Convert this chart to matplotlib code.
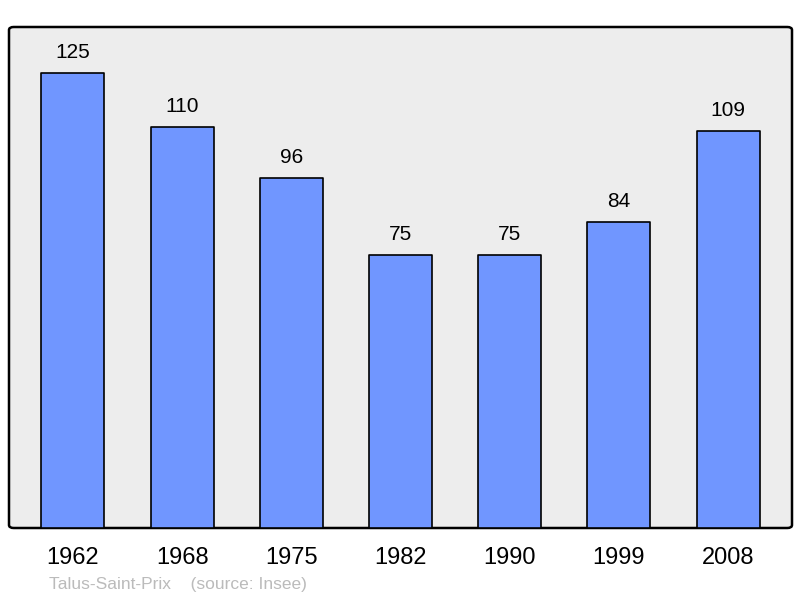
import matplotlib
matplotlib.use("Agg")
import matplotlib.pyplot as plt
from matplotlib.patches import FancyBboxPatch

years = ["1962", "1968", "1975", "1982", "1990", "1999", "2008"]
values = [125, 110, 96, 75, 75, 84, 109]
title_text = "Talus-Saint-Prix    (source: Insee)"

plt.rcParams['font.family'] = ['Liberation Sans', 'DejaVu Sans']

fig = plt.figure(figsize=(8, 5.98), dpi=100)
ax = fig.add_axes([9/800, 70/598, 783/800, 501/598])
ax.patch.set_visible(False)

frame = FancyBboxPatch((0, 0), 1, 1, boxstyle="round,pad=0,rounding_size=0.006",
                       transform=ax.transAxes, facecolor='#ededed', edgecolor='black',
                       linewidth=1.8, zorder=0, clip_on=False)
ax.add_patch(frame)

x = list(range(len(years)))
bars = ax.bar(x, values, width=0.576, color='#7096ff', edgecolor='black',
              linewidth=1.2, zorder=2)
for b in bars:
    b.set_joinstyle('round')

for xi, v in zip(x, values):
    ax.annotate(str(v), (xi, v), xytext=(0, 8), textcoords='offset points',
                ha='center', va='bottom', fontsize=15, color='black')

ax.set_xlim(-0.585, 6.585)
ax.set_ylim(0, 137.6)
ax.set_xticks(x)
ax.set_xticklabels(years, fontsize=17)
ax.tick_params(axis='x', length=0, pad=14)
ax.set_yticks([])
for s in ax.spines.values():
    s.set_visible(False)

fig.text(49/800, 1 - 585/598, title_text, fontsize=12.5, color='#bbbbbb',
         ha='left', va='center')

fig.savefig("out.png", dpi=100)
